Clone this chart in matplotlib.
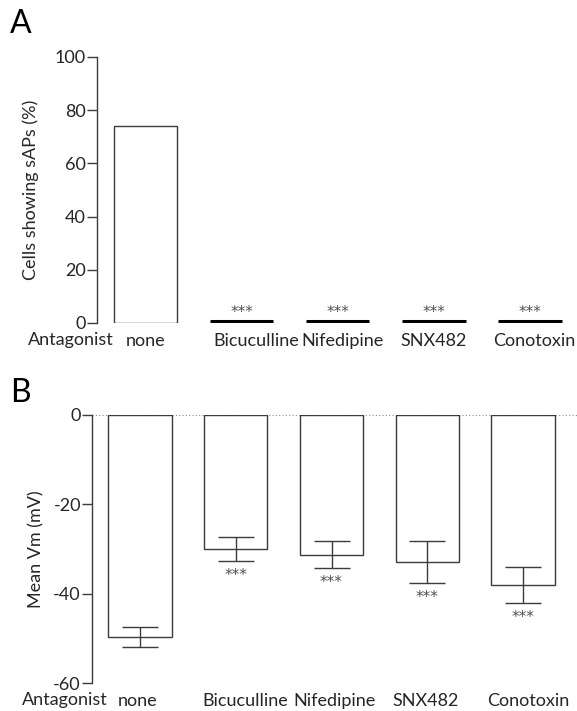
import matplotlib.pyplot as plt
from matplotlib.transforms import ScaledTranslation, blended_transform_factory

plt.rcParams["font.family"] = ["Lato", "DejaVu Sans"]

# 组别与数据
antagonists = ["none", "Bicuculline", "Nifedipine", "SNX482", "Conotoxin"]
saps_pct = [74, 0, 0, 0, 0]
saps_sig = ["", "***", "***", "***", "***"]
vm_mean = [-49.7, -30.0, -31.3, -32.9, -38.1]
vm_sem = [2.3, 2.7, 3.0, 4.7, 4.0]
vm_sig = ["", "***", "***", "***", "***"]

# 横轴标签的水平微调（像素）
label_shift_a = [0, 15, 5, 0, 4]
label_shift_b = [-2, 10, 3, -2, 5]

EDGE = "#3c3c3c"
TXT = "#262626"
FS = 13
STAR_KW = dict(fontsize=11, color="#505050", family="DejaVu Sans")


def style_axes(ax, label_x, shifts):
    for side in ("top", "right", "bottom"):
        ax.spines[side].set_visible(False)
    ax.spines["left"].set_color(EDGE)
    ax.spines["left"].set_linewidth(1.0)
    ax.tick_params(axis="y", direction="out", length=7, width=1.0, color=EDGE,
                   labelsize=FS, labelcolor=TXT, pad=1)
    ax.tick_params(axis="x", length=0, labelsize=FS, labelcolor=TXT, pad=7)
    ax.set_xticks(range(len(antagonists)))
    ax.set_xticklabels(antagonists)
    fig = ax.figure
    for lab, dx in zip(ax.get_xticklabels(), shifts):
        lab.set_transform(lab.get_transform()
                          + ScaledTranslation(dx / 100, 0, fig.dpi_scale_trans))
    trans = blended_transform_factory(ax.transAxes, ax.transAxes)
    ax.text(label_x, -0.065, "Antagonist", transform=trans, ha="right",
            va="center", fontsize=FS, color=TXT)


fig = plt.figure(figsize=(5.77, 7.11), dpi=100)

# A: 出现自发动作电位的细胞比例
axA = fig.add_axes([97 / 577, 1 - 323 / 711, 481 / 577, 266 / 711])
x = list(range(len(antagonists)))
nz = [i for i, v in enumerate(saps_pct) if v > 0]
zr = [i for i, v in enumerate(saps_pct) if v == 0]
axA.bar([x[i] for i in nz], [saps_pct[i] for i in nz], width=0.66,
        color="white", edgecolor=EDGE, linewidth=1.0)
axA.hlines([saps_pct[i] + 0.6 for i in zr], [x[i] - 0.33 for i in zr],
           [x[i] + 0.33 for i in zr], color="black", linewidth=2.2)
for i, s in enumerate(saps_sig):
    if s:
        axA.annotate(s, (x[i], saps_pct[i]), xytext=(0, 2),
                     textcoords="offset points", ha="center", va="bottom",
                     **STAR_KW)
axA.set_xlim(-0.505, 4.5)
axA.set_ylim(0, 100)
axA.set_yticks([0, 20, 40, 60, 80, 100])
axA.set_ylabel("Cells showing sAPs (%)", fontsize=FS, color=TXT, labelpad=11)
style_axes(axA, 0.034, label_shift_a)

# B: 平均膜电位
axB = fig.add_axes([92 / 577, 1 - 683 / 711, 479 / 577, 268 / 711])
axB.axhline(0, color="#8a8a8a", linestyle=(0, (1, 2)), linewidth=0.8,
            xmax=1.02, clip_on=False, zorder=0)
axB.bar(x, vm_mean, width=0.66, color="white", edgecolor=EDGE, linewidth=1.0,
        zorder=2)
axB.errorbar(x, vm_mean, yerr=vm_sem, fmt="none", ecolor=EDGE, elinewidth=1.0,
             capsize=13, capthick=1.0, zorder=3)
for i, s in enumerate(vm_sig):
    if s:
        axB.annotate(s, (x[i], vm_mean[i] - vm_sem[i]), xytext=(0, -5),
                     textcoords="offset points", ha="center", va="top",
                     **STAR_KW)
axB.set_xlim(-0.5, 4.5)
axB.set_ylim(-60, 0)
axB.set_yticks([0, -20, -40, -60])
axB.set_yticklabels(["0", "-20", "-40", "-60"])
axB.set_ylabel("Mean Vm (mV)", fontsize=FS, color=TXT, labelpad=6)
style_axes(axB, 0.032, label_shift_b)

fig.text(10 / 577, 1 - 24 / 711, "A", fontsize=23, color="black", va="center")
fig.text(10 / 577, 1 - 393 / 711, "B", fontsize=23, color="black", va="center")

fig.savefig("out.png", dpi=100)
